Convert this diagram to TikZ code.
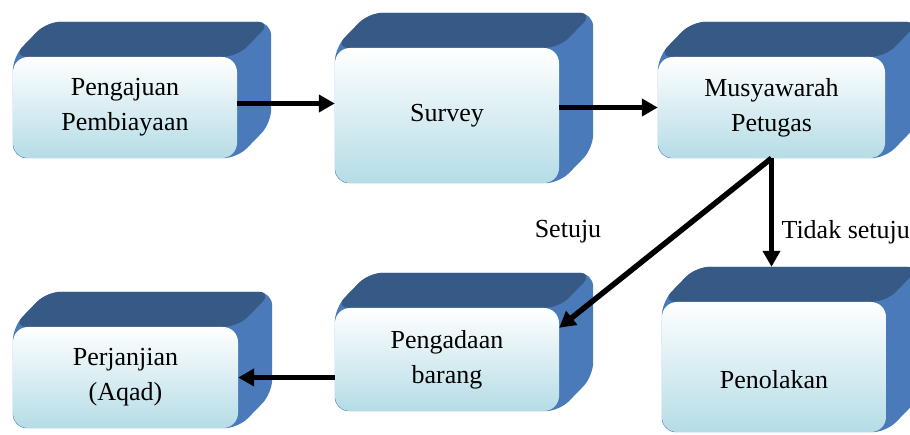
\documentclass[tikz,border=0pt]{standalone}
\usepackage{fontspec}
\setmainfont{Liberation Serif}
\usetikzlibrary{arrows.meta,calc,backgrounds}

\definecolor{biruatas}{HTML}{365A85}
\definecolor{birusisi}{HTML}{4A7AB9}
\definecolor{birumuda}{HTML}{B5DCE6}

\tikzset{
  muka/.style={rounded corners=15pt, top color=white, bottom color=birumuda,
    inner sep=0pt, align=center, font=\fontsize{26}{35}\selectfont},
  teks/.style={font=\fontsize{26}{35}\selectfont},
  panah/.style={-{Triangle[length=16pt,width=17pt]}, line width=5.5pt}
}

% sisi belakang balok
\newcommand{\balok}[1]{%
  \begin{scope}[on background layer, rounded corners=14pt]
    \fill[birusisi] (#1.north west) -- ++(34,-35) -- ($(#1.north east)+(34,-35)$)
      -- ($(#1.south east)+(34,-35)$) -- (#1.south east) -- (#1.south west) -- cycle;
    \fill[biruatas] (#1.north west) -- ++(34,-35) -- ($(#1.north east)+(34,-35)$)
      -- (#1.north east) -- cycle;
  \end{scope}}

\begin{document}
\begin{tikzpicture}[x=1pt, y=-1pt]
    \useasboundingbox (0,0) rectangle (910,435);
    \clip (0,0) rectangle (910,435);

    \node[muka, minimum width=224pt, minimum height=101pt] (pengajuan) at (125,107.5) {Pengajuan\\Pembiayaan};
    \node[muka, minimum width=224pt, minimum height=135pt] (survey) at (447,115.5) {Survey};
    \node[muka, minimum width=227pt, minimum height=101pt] (musyawarah) at (771.5,107.5) {Musyawarah\\Petugas};
    \node[muka, minimum width=224pt, minimum height=103pt] (pengadaan) at (447,359.5) {Pengadaan\\barang};
    \node[muka, minimum width=225pt, minimum height=101pt] (perjanjian) at (125.5,377.5) {Perjanjian\\(Aqad)};
    \node[muka, minimum width=224pt, minimum height=130pt, text height=44pt] (penolakan) at (774,367) {Penolakan};

    \balok{pengajuan}
    \balok{survey}
    \balok{musyawarah}
    \balok{pengadaan}
    \balok{perjanjian}
    \balok{penolakan}

    \coordinate (tolak) at ([yshift=35pt]penolakan.north);

    \draw[panah] ([yshift=4pt]pengajuan.east) -- ([yshift=4pt]pengajuan.east -| survey.west);
    \draw[panah] (musyawarah.west -| survey.east) -- (musyawarah.west);
    \draw[panah] (musyawarah.south) -- ([yshift=-20pt]pengadaan.north east);
    \draw[panah] (musyawarah.south) -- (musyawarah.south |- tolak);
    \draw[panah] (perjanjian.east -| pengadaan.west) -- (perjanjian.east);

    \node[teks] (setuju) at (568,232) {Setuju};
    \node[teks, anchor=west] (tidak) at (778,232) {Tidak setuju};
\end{tikzpicture}
\end{document}
